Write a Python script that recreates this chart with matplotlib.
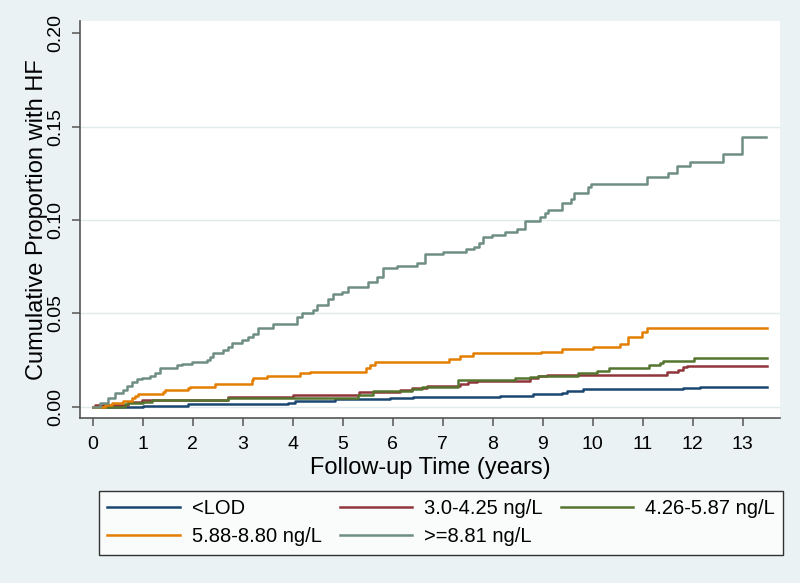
import matplotlib
matplotlib.use("Agg")
import matplotlib.pyplot as plt

plt.rcParams["font.family"] = ["Liberation Sans", "DejaVu Sans"]

# step times (years) and cumulative proportion with HF after each step
lod_t = [0, 1.0, 1.9, 3.9, 4.05, 4.85, 5.95, 6.4, 8.15, 8.8, 9.38, 9.48, 9.8, 11.8, 12.15, 13.48]
lod_y = [0, 0.0005, 0.0013, 0.0021, 0.003, 0.004, 0.0045, 0.0054, 0.0059, 0.0066, 0.0075, 0.0086,
         0.0093, 0.0099, 0.0104, 0.0104]

q2_t = [0, 0.05, 0.7, 0.98, 2.7, 4.0, 5.33, 6.15, 6.38, 6.68, 7.35, 7.5, 7.68, 8.75, 8.9, 9.09,
        11.48, 11.7, 11.8, 11.88, 13.48]
q2_y = [0, 0.001, 0.0027, 0.0036, 0.005, 0.0063, 0.0077, 0.009, 0.0102, 0.0111, 0.0122, 0.0134,
        0.0139, 0.0152, 0.0165, 0.0172, 0.0184, 0.0197, 0.0214, 0.0218, 0.0218]

q3_t = [0, 0.65, 0.7, 1.0, 1.18, 2.7, 5.3, 5.6, 6.39, 6.59, 7.3, 8.45, 8.75, 8.9, 9.7, 10.08,
        10.32, 11.13, 11.35, 11.41, 12.03, 13.48]
q3_y = [0, 0.0013, 0.0021, 0.0027, 0.0036, 0.0045, 0.0063, 0.0084, 0.0095, 0.0107, 0.0143, 0.0152,
        0.0161, 0.0166, 0.0179, 0.0191, 0.0209, 0.0224, 0.0236, 0.0247, 0.0263, 0.0263]

q4_t = [0, 0.25, 0.38, 0.6, 0.78, 0.85, 0.9, 1.41, 1.45, 1.9, 1.94, 2.45, 3.19, 3.21, 3.49, 4.15,
        4.35, 5.47, 5.55, 5.65, 7.13, 7.35, 7.61, 8.97, 9.38, 10.0, 10.55, 10.7, 10.98, 11.08, 13.48]
q4_y = [0, 0.001, 0.0018, 0.0032, 0.0045, 0.0057, 0.0066, 0.0077, 0.009, 0.0099, 0.0107, 0.012,
        0.0143, 0.0155, 0.0165, 0.0179, 0.0188, 0.0206, 0.0224, 0.0241, 0.0257, 0.0272, 0.0286,
        0.0295, 0.0308, 0.0322, 0.0336, 0.0375, 0.0402, 0.042, 0.042]

q5_t = [0, 0.15, 0.3, 0.45, 0.6, 0.68, 0.78, 0.88, 0.98, 1.15, 1.25, 1.35, 1.41, 1.69, 1.79, 1.99,
        2.29, 2.35, 2.41, 2.61, 2.71, 2.78, 2.98, 3.1, 3.2, 3.3, 3.6, 4.08, 4.18, 4.4, 4.48, 4.7,
        4.8, 4.98, 5.1, 5.5, 5.68, 5.8, 6.08, 6.49, 6.65, 7.0, 7.47, 7.63, 7.73, 7.8, 7.98, 8.25,
        8.48, 8.65, 8.95, 9.05, 9.1, 9.39, 9.56, 9.62, 9.9, 9.97, 11.08, 11.51, 11.68, 11.95, 12.6,
        12.98, 13.47]
q5_y = [0, 0.002, 0.0047, 0.0073, 0.009, 0.011, 0.0134, 0.0148, 0.0155, 0.0165, 0.0182, 0.0206,
        0.021, 0.0224, 0.0232, 0.0241, 0.025, 0.0268, 0.029, 0.0304, 0.032, 0.0343, 0.0357, 0.0375,
        0.0388, 0.042, 0.0442, 0.0482, 0.05, 0.0518, 0.0545, 0.0576, 0.0602, 0.0616, 0.064, 0.067,
        0.0697, 0.0742, 0.0754, 0.0772, 0.0817, 0.0831, 0.0844, 0.0858, 0.0876, 0.0908, 0.092,
        0.0935, 0.095, 0.0997, 0.1015, 0.1037, 0.1054, 0.1093, 0.1112, 0.1144, 0.118, 0.1194,
        0.123, 0.1251, 0.129, 0.131, 0.1356, 0.1447, 0.1447]

labels = ["<LOD", "3.0-4.25 ng/L", "4.26-5.87 ng/L", "5.88-8.80 ng/L", ">=8.81 ng/L"]
colors = ["#1A476F", "#90353B", "#55752F", "#E37E00", "#6E8E84"]
series = [(lod_t, lod_y), (q2_t, q2_y), (q3_t, q3_y), (q4_t, q4_y), (q5_t, q5_y)]

fig = plt.figure(figsize=(8, 5.83), dpi=100, facecolor="#EAF2F3")
ax = fig.add_axes([0.1, 0.283, 0.875, 0.681])
ax.set_facecolor("white")

lines = []
for (t, y), lab, col in zip(series, labels, colors):
    (ln,) = ax.step(t, y, where="post", color=col, lw=1.8, label=lab)
    lines.append(ln)

ax.set_xlim(-0.25, 13.75)
ax.set_ylim(-0.006, 0.2067)
ax.set_xticks(range(0, 14))
ax.set_yticks([0, 0.05, 0.10, 0.15, 0.20])
ax.set_yticklabels(["0.00", "0.05", "0.10", "0.15", "0.20"], rotation=90, va="center")
for g in [0, 0.05, 0.10, 0.15]:
    ax.axhline(g, color="#E1EBEE", lw=1.0, zorder=0)

for side in ["top", "right"]:
    ax.spines[side].set_visible(False)
for side in ["left", "bottom"]:
    ax.spines[side].set_color("#555555")
    ax.spines[side].set_linewidth(1.2)
ax.tick_params(axis="both", direction="out", length=6, width=1.1, color="#555555",
               labelsize=14, pad=5)
ax.tick_params(axis="x", pad=7)

ax.set_xlabel("Follow-up Time (years)", fontsize=17, labelpad=3)
ax.set_ylabel("Cumulative Proportion with HF", fontsize=17, labelpad=0)

order = [0, 3, 1, 4, 2]
leg = fig.legend([lines[i] for i in order], [labels[i] for i in order],
                 loc="center", bbox_to_anchor=(0.124, 0.046, 0.855, 0.114), mode="expand",
                 ncol=3, fontsize=14.5, frameon=True, fancybox=False, handlelength=3.6,
                 handletextpad=0.6, borderaxespad=0, labelspacing=0.45, borderpad=0.4)
leg.get_frame().set_edgecolor("black")
leg.get_frame().set_linewidth(1.0)

fig.savefig("out.png", dpi=100, facecolor=fig.get_facecolor())
